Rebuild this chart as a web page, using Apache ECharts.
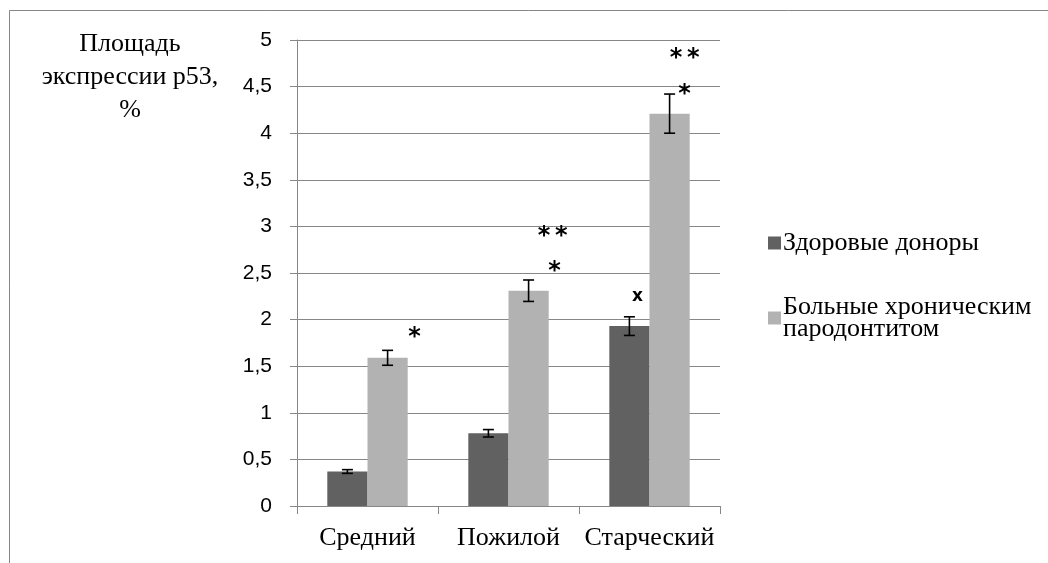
<!DOCTYPE html>
<html>
<head>
<meta charset="utf-8">
<script src="https://cdn.jsdelivr.net/npm/echarts@6/dist/echarts.min.js"></script>
<style>
html,body{margin:0;padding:0;background:#fff;}
#chart{width:1048px;height:563px;}
</style>
</head>
<body>
<div id="chart"></div>
<script>
// ---- data ----
const categories = ['Средний', 'Пожилой', 'Старческий'];
const seriesNames = ['Здоровые доноры', 'Больные хроническим\nпародонтитом'];
const healthy = [0.37, 0.78, 1.93];
const healthyErr = [0.02, 0.04, 0.10];
const patients = [1.59, 2.31, 4.21];
const patientsErr = [0.08, 0.115, 0.21];
const yTicks = ['0', '0,5', '1', '1,5', '2', '2,5', '3', '3,5', '4', '4,5', '5'];
const yTitle = 'Площадь\nэкспрессии p53,\n%';
// significance marks: category index, series index, value level, text
const annotCat = [0, 1, 1, 2, 2, 2];
const annotSeries = [1, 1, 1, 1, 1, 0];
const annotValue = [1.875, 2.59, 2.96, 4.49, 4.87, 2.26];
const annotText = ['*', '*', '**', '*', '**', 'x'];

// ---- layout ----
const CAT_GAP = 0.43;
const annotDx = [27, 26, 24, 15, 15, 8];
const colors = ['#616161', '#b2b2b2'];
const gridColor = '#878787';

function barX(api, cat, s) {
  const c = api.coord([cat, 0]);
  const band = api.size([1, 0])[0];
  const bw = band * (1 - CAT_GAP) / 2;
  return c[0] + (s === 0 ? -bw / 2 : bw / 2);
}

const errData = [];
healthy.forEach((v, i) => errData.push([i, v, healthyErr[i], 0]));
patients.forEach((v, i) => errData.push([i, v, patientsErr[i], 1]));

const annotData = annotCat.map((c, i) => [c, annotValue[i], i]);

const chart = echarts.init(document.getElementById('chart'), null, {renderer: 'canvas'});
const option = {
  animation: false,
  backgroundColor: '#fff',
  grid: {left: 297, right: 328, top: 40, bottom: 57, containLabel: false},
  graphic: [
    {type: 'line', shape: {x1: 9.5, y1: 10.5, x2: 1048, y2: 10.5}, style: {stroke: gridColor, lineWidth: 1}},
    {type: 'line', shape: {x1: 9.5, y1: 10.5, x2: 9.5, y2: 563}, style: {stroke: gridColor, lineWidth: 1}},
    {type: 'text', x: 130, y: 28, style: {text: yTitle, textAlign: 'center', textVerticalAlign: 'top',
      font: '26px "Liberation Serif"', fill: '#000', lineHeight: 33}}
  ],
  legend: {
    data: seriesNames,
    orient: 'vertical',
    left: 763,
    top: 225,
    itemWidth: 13,
    itemHeight: 13,
    itemGap: 38,
    icon: 'rect',
    textStyle: {fontFamily: 'Liberation Serif', fontSize: 26, color: '#000', lineHeight: 22, padding: [0, 0, 0, -3]}
  },
  xAxis: {
    type: 'category',
    data: categories,
    axisLine: {lineStyle: {color: gridColor, width: 1}},
    axisTick: {show: true, length: 8, lineStyle: {color: gridColor}},
    axisLabel: {interval: 0, hideOverlap: false, fontFamily: 'Liberation Serif', fontSize: 26, color: '#000', margin: 19}
  },
  yAxis: {
    type: 'value',
    min: 0, max: 5, interval: 0.5,
    axisLine: {show: true, lineStyle: {color: gridColor, width: 1}},
    axisTick: {show: true, length: 7, lineStyle: {color: gridColor}},
    splitLine: {lineStyle: {color: gridColor, width: 1}},
    axisLabel: {fontFamily: 'Liberation Sans', fontSize: 21, color: '#000', margin: 25,
      formatter: (v) => yTicks[Math.round(v * 2)]}
  },
  series: [
    {name: seriesNames[0], type: 'bar', data: healthy, barGap: '0%', barCategoryGap: (CAT_GAP * 100) + '%',
      itemStyle: {color: colors[0]}},
    {name: seriesNames[1], type: 'bar', data: patients, barGap: '0%', barCategoryGap: (CAT_GAP * 100) + '%',
      itemStyle: {color: colors[1]}},
    {type: 'custom', name: 'err', z: 5, data: errData, encode: {x: 0, y: 1},
      renderItem: function (params, api) {
        const cat = api.value(0), v = api.value(1), e = api.value(2), s = api.value(3);
        const x = barX(api, cat, s);
        const yTop = api.coord([cat, v + e])[1];
        const yBot = api.coord([cat, v - e])[1];
        const cap = 5.5;
        const st = {stroke: '#000', lineWidth: 1.6};
        return {type: 'group', children: [
          {type: 'line', shape: {x1: x, y1: yTop, x2: x, y2: yBot}, style: st},
          {type: 'line', shape: {x1: x - cap, y1: yTop, x2: x + cap, y2: yTop}, style: st},
          {type: 'line', shape: {x1: x - cap, y1: yBot, x2: x + cap, y2: yBot}, style: st}
        ]};
      }},
    {type: 'custom', name: 'marks', z: 6, data: annotData, encode: {x: 0, y: 1},
      renderItem: function (params, api) {
        const cat = api.value(0), v = api.value(1), idx = api.value(2);
        const s = annotSeries[idx];
        const x = barX(api, cat, s) + annotDx[idx];
        const y = api.coord([cat, v])[1];
        const t = annotText[idx];
        const isX = t === 'x';
        return {type: 'text', x: x, y: y + (isX ? 1 : 7),
          style: {text: t.split('').join('\u2009'), textAlign: 'center', textVerticalAlign: 'middle',
            font: isX ? 'bold 17px "DejaVu Sans"' : 'bold 24px "DejaVu Sans"', fill: '#000'}};
      }}
  ]
};
chart.setOption(option);
</script>
</body>
</html>
